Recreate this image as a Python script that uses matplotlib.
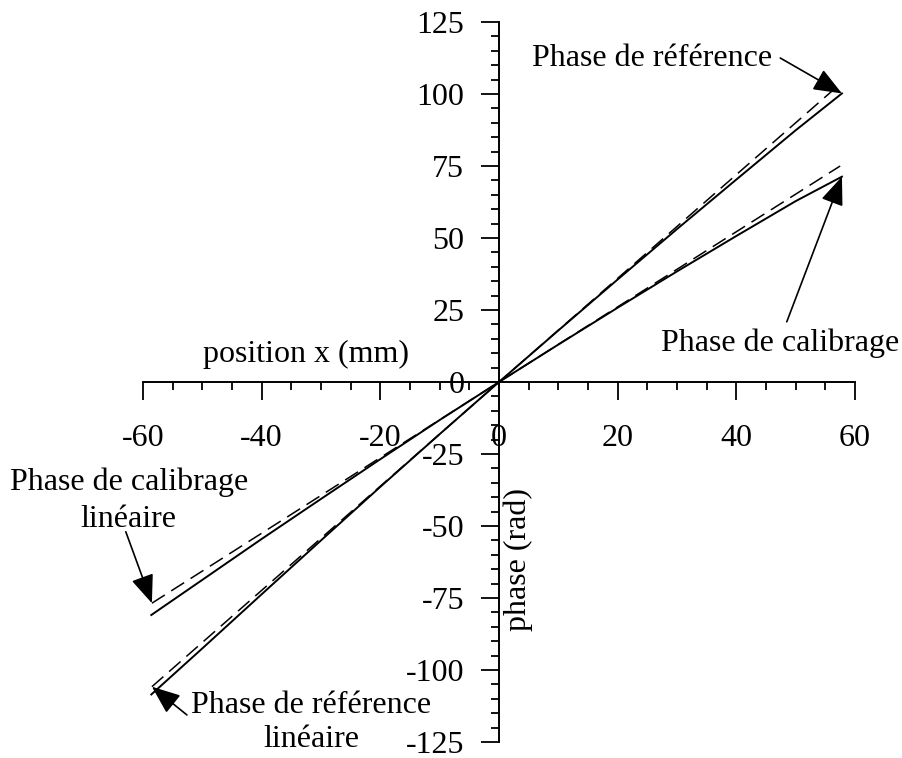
import matplotlib
matplotlib.use('Agg')
import matplotlib.pyplot as plt
import numpy as np
from matplotlib.ticker import MultipleLocator

plt.rcParams['font.family'] = ['Liberation Serif', 'DejaVu Serif']
plt.rcParams['axes.unicode_minus'] = False

# Measured phases (solid) along the position x (mm)
x_mes = [-58.6, -50, -40, -30, -20, -10, 0, 10, 20, 30, 40, 50, 57.8]
phase_ref = [-108.5, -92.5, -73.7, -55.0, -36.4, -18.1, 0, 17.9, 35.6, 53.1, 70.3, 87.4, 100.2]
phase_cal = [-80.9, -68.7, -54.5, -40.6, -26.8, -13.2, 0, 13.0, 25.8, 38.4, 50.7, 62.8, 71.3]

# Linear phases (dashed)
x_lin = [-58.5, 0, 57.5]
phase_ref_lin = [-105.8, 0, 103.5]
phase_cal_lin = [-76.8, 0, 75.0]

FS = 23

fig = plt.figure(figsize=(9.02, 7.58), dpi=100)
ax = fig.add_axes([143/902, 16/758, 712/902, 720/758])
ax.set_xlim(-60, 60)
ax.set_ylim(-125, 125)

ax.plot(x_mes, phase_ref, '-k', lw=1.4)
ax.plot(x_mes, phase_cal, '-k', lw=1.4)
ax.plot(x_lin, phase_ref_lin, color='k', lw=1.1, dashes=(10, 5))
ax.plot(x_lin, phase_cal_lin, color='k', lw=1.1, dashes=(10, 5))

# axes crossing at the origin
ax.spines['left'].set_position(('data', 0))
ax.spines['bottom'].set_position(('data', 0))
ax.spines['top'].set_visible(False)
ax.spines['right'].set_visible(False)
for s in ('left', 'bottom'):
    ax.spines[s].set_linewidth(1.4)

ax.xaxis.set_major_locator(MultipleLocator(20))
ax.xaxis.set_minor_locator(MultipleLocator(5))
ax.yaxis.set_major_locator(MultipleLocator(25))
ax.yaxis.set_minor_locator(MultipleLocator(5))
ax.tick_params(which='major', direction='out', length=13, width=1.3, labelsize=FS)
ax.tick_params(which='minor', direction='out', length=6, width=1.3)
ax.tick_params(axis='x', which='major', pad=17)
ax.tick_params(axis='y', which='major', pad=12)

ax.text(-32.5, 9.4, 'position x (mm)', fontsize=FS, ha='center', va='center')
ax.text(3.2, -61.8, 'phase (rad)', fontsize=FS, ha='center', va='center', rotation=90)

arrow = dict(arrowstyle='-|>,head_length=0.8,head_width=0.32', mutation_scale=22,
             color='k', lw=1.2, shrinkA=0, shrinkB=0)

ax.text(5.6, 112.5, 'Phase de référence', fontsize=FS, ha='left', va='center')
ax.annotate('', xy=(x_mes[-1], phase_ref[-1]), xytext=(47.4, 112.5), arrowprops=arrow)

ax.text(47.4, 13.5, 'Phase de calibrage', fontsize=FS, ha='center', va='center')
ax.annotate('', xy=(x_mes[-1], phase_cal[-1]), xytext=(48.5, 20.9), arrowprops=arrow)

ax.text(-62.4, -41.3, 'Phase de calibrage\nlinéaire', fontsize=FS, ha='center',
        va='center', multialignment='center', linespacing=1.37)
ax.annotate('', xy=(x_lin[0], phase_cal_lin[0]), xytext=(-62.9, -52), arrowprops=arrow)

ax.text(-31.7, -118.2, 'Phase de référence\nlinéaire', fontsize=FS, ha='center',
        va='center', multialignment='center', linespacing=1.26)
ax.annotate('', xy=(x_lin[0], phase_ref_lin[0]), xytext=(-52.6, -115.6), arrowprops=arrow)

fig.savefig('out.png', dpi=100)
